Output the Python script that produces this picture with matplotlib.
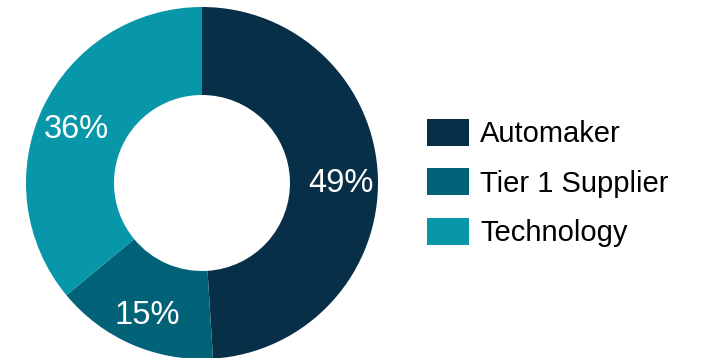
import matplotlib.pyplot as plt
from matplotlib.patches import Patch

## Data
labels = ['Automaker', 'Tier 1 Supplier', 'Technology']
shares = [49, 15, 36]
colors = ['#072f47', '#026378', '#0897a8']

plt.rcParams['font.family'] = ['Liberation Sans', 'DejaVu Sans']

fig = plt.figure(figsize=(7.04, 3.58), dpi=100)
ax = fig.add_axes([26 / 704, -1 / 358, 352 / 704, 352 / 358])

wedges, texts, autotexts = ax.pie(
    shares, colors=colors, startangle=90, counterclock=False,
    autopct='%d%%', pctdistance=0.79,
    wedgeprops=dict(width=0.5, linewidth=0),
    textprops=dict(color='white', fontsize=23.5))
# nudge the labels down a bit, matplotlib centres on the full text box
for t in autotexts:
    x, y = t.get_position()
    t.set_position((x, y - 0.03))
ax.set_xlim(-1, 1)
ax.set_ylim(-1, 1)
ax.set_aspect('equal')
ax.axis('off')

# legend on the right
handles = [Patch(facecolor=c, edgecolor='none') for c in colors]
fig.legend(handles, labels, loc='center left', bbox_to_anchor=(427 / 704, 1 - 183 / 358),
           frameon=False, fontsize=21, handlelength=1.44, handleheight=1.06,
           handletextpad=0.38, labelspacing=0.68, borderpad=0, borderaxespad=0)

fig.savefig('out.png', dpi=100)
